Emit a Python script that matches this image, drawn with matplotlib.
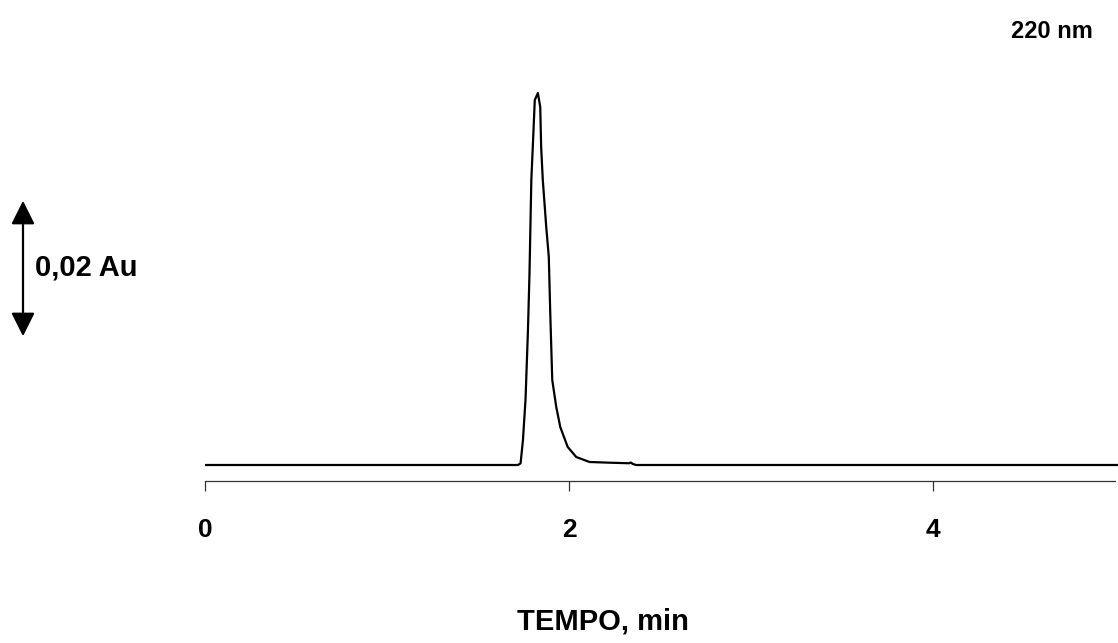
import matplotlib
matplotlib.use("Agg")
import matplotlib.pyplot as plt
from matplotlib.patches import FancyArrowPatch

# ---- data (time in min, absorbance in Au) ----
time_min = [0.0, 1.720, 1.734, 1.747, 1.761, 1.774, 1.783, 1.793, 1.801, 1.812,
            1.829, 1.842, 1.847, 1.856, 1.875, 1.889, 1.897, 1.908, 1.930,
            1.952, 1.993, 2.040, 2.113, 2.222, 2.330, 2.340, 2.350, 2.369, 5.010]
absorb_au = [0.0, 0.0, 0.00024, 0.00357, 0.00929, 0.01886, 0.02743, 0.04071,
             0.04543, 0.05214, 0.05314, 0.05114, 0.04543, 0.04071, 0.03400,
             0.02971, 0.02171, 0.01214, 0.00829, 0.00543, 0.00257, 0.00114,
             0.00043, 0.00033, 0.00025, 0.00035, 0.00015, 0.0, 0.0]
tick_vals = [0, 2, 4]
tick_labels = ["0", "2", "4"]
scale_bar_au = 0.02

W, H = 1118, 643
fig = plt.figure(figsize=(W / 100, H / 100), dpi=100)
fontfam = "Liberation Sans"

# axes placement: x=0 at px 205, x=2 at px 569; bottom spine at px 481
px_per_min = (569 - 205) / 2.0
px_per_au = 140 / scale_bar_au
left = 205 / W
right_val = (W - 205) / px_per_min
bottom_px, top_px = 481, 60
ax = fig.add_axes([left, (H - bottom_px) / H, 1 - left, (bottom_px - top_px) / H])
ax.set_xlim(0, right_val)
y0 = -(481 - 465) / px_per_au
ax.set_ylim(y0, y0 + (bottom_px - top_px) / px_per_au)

ax.plot(time_min, absorb_au, color="black", lw=1.6, solid_joinstyle="round")

for s in ["top", "right", "left"]:
    ax.spines[s].set_visible(False)
ax.spines["bottom"].set_bounds(0, 5)
ax.spines["bottom"].set_color("#333333")
ax.spines["bottom"].set_linewidth(0.9)
ax.set_yticks([])
ax.set_xticks(tick_vals)
ax.set_xticklabels(tick_labels, fontsize=19, fontweight="bold", family=fontfam)
ax.tick_params(axis="x", direction="out", length=7.5, width=0.9, color="#333333", pad=19)

def fx(px):
    return px / W

def fy(py):
    return 1 - py / H

fig.text(fx(603), fy(622), "TEMPO, min", ha="center", va="center",
         fontsize=21, fontweight="bold", family=fontfam)
fig.text(fx(1093), fy(31), "220 nm", ha="right", va="center",
         fontsize=17, fontweight="bold", family=fontfam)
fig.text(fx(35), fy(267), "0,02 Au", ha="left", va="center",
         fontsize=21, fontweight="bold", family=fontfam)

arr = FancyArrowPatch((fx(23), fy(198)), (fx(23), fy(339)),
                      transform=fig.transFigure,
                      arrowstyle="<|-|>,head_length=1.2,head_width=0.6",
                      mutation_scale=12, color="black", lw=1.6)
fig.patches.append(arr)

fig.savefig("out.png", dpi=100)
